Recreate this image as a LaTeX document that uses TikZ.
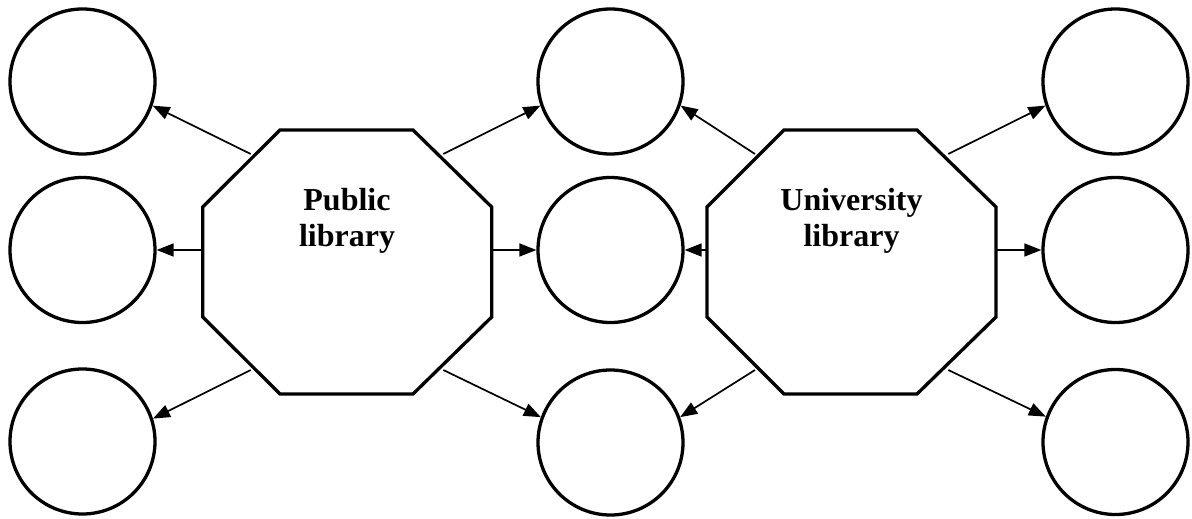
\documentclass[tikz,border=0pt]{standalone}
\usepackage{fontspec}
\setmainfont{Liberation Serif}
\usetikzlibrary{arrows.meta}
\begin{document}
\begin{tikzpicture}[x=1pt,y=-1pt,
  circ/.style={circle,draw,line width=3.3pt,minimum size=145pt,inner sep=0pt},
  octa/.style={draw,line width=3.3pt,line join=miter},
  lbl/.style={inner sep=0pt,align=center,font=\fontsize{32}{36}\selectfont\bfseries},
  conn/.style={line width=1.7pt,-{Triangle[length=17pt,width=13pt]}}]
\useasboundingbox (0,0) rectangle (1192,519);
% circles
\node[circ] (TL) at (82.5,81.5) {};
\node[circ] (ML) at (82.5,250) {};
\node[circ] (BL) at (82.5,441.5) {};
\node[circ] (TM) at (610.5,81.5) {};
\node[circ] (MM) at (610.5,250) {};
\node[circ] (BM) at (610.5,442.5) {};
\node[circ] (TR) at (1115.5,81.5) {};
\node[circ] (MR) at (1115.5,250) {};
\node[circ] (BR) at (1115.5,442) {};
% octagons
\draw[octa] (280,130) -- (413,130) -- (491.7,207) -- (491.7,317) -- (413,394) -- (280,394) -- (202.7,317) -- (202.7,207) -- cycle;
\draw[octa] (784,130) -- (917,130) -- (996,207) -- (996,317) -- (917,394) -- (784,394) -- (707,317) -- (707,207) -- cycle;
\node[lbl] (Ltext) at (347,220.5) {Public\\library};
\node[lbl] (Rtext) at (851.5,220.5) {University\\library};
% connector start points on octagons
\coordinate (L1) at (250.7,154);
\coordinate (L2) at (202.7,250);
\coordinate (L3) at (250.7,370);
\coordinate (L4) at (443.3,154);
\coordinate (L5) at (491.7,250);
\coordinate (L6) at (443.3,370);
\coordinate (R1) at (755,154);
\coordinate (R2) at (707,250);
\coordinate (R3) at (755,370);
\coordinate (R4) at (948.3,154);
\coordinate (R5) at (996,250);
\coordinate (R6) at (948.3,370);
% connectors
\draw[conn] (L1) -- (TL.-19);
\draw[conn] (L2) -- (ML.east);
\draw[conn] (L3) -- (BL.18);
\draw[conn] (L4) -- (TM.-161);
\draw[conn] (L5) -- (MM.west);
\draw[conn] (L6) -- (BM.160);
\draw[conn] (R1) -- (TM.-19.5);
\draw[conn] (R2) -- (MM.east);
\draw[conn] (R3) -- (BM.20);
\draw[conn] (R4) -- (TR.-161);
\draw[conn] (R5) -- (MR.west);
\draw[conn] (R6) -- (BR.160);
\end{tikzpicture}
\end{document}
